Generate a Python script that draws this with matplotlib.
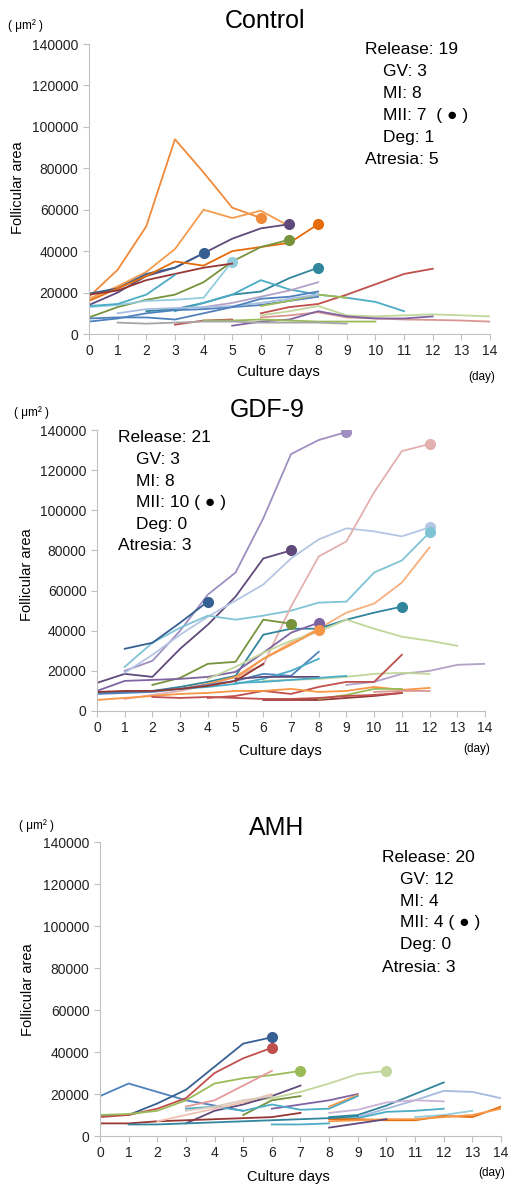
import numpy as np
import matplotlib
matplotlib.use("Agg")
import matplotlib.pyplot as plt

plt.rcParams["font.family"] = ["Liberation Sans", "DejaVu Sans"]

# ─── Paleta estilo Office ─────────────────────────────────────────────────────
BLUE, RED, GREEN, PURPLE, AQUA, ORANGE = "#4F81BD", "#C0504D", "#9BBB59", "#8064A2", "#4BACC6", "#F79646"
D_BLUE, D_RED, D_GREEN, D_PURPLE, D_AQUA, D_ORANGE = "#376092", "#953735", "#77933C", "#604A7B", "#31859C", "#E46C0A"
L_BLUE, L_RED, L_GREEN, L_PURPLE, L_AQUA, L_ORANGE = "#A7BDE0", "#D99694", "#C3D69B", "#B3A2C7", "#93CDDD", "#F6AE7C"

days = list(range(0, 15))
y_ticks = list(range(0, 140001, 20000))

# ─── Control ──────────────────────────────────────────────────────────────────
ctrl_start = [0, 0, 0, 0, 0, 0, 0, 0, 0, 2, 3, 6, 4, 0, 6, 6, 6, 5, 3, 4, 1, 1, 0]
ctrl_vals = [
    [18000, 31000, 52000, 94000, 78000, 61000, 56000],
    [17000, 23000, 30000, 41000, 60000, 56000, 59500, 52000],
    [14000, 20000, 28000, 32000, 39000, 46000, 51000, 53000],
    [19500, 22000, 29000, 32000, 39000],
    [16000, 22000, 28000, 35000, 33000, 40000, 42000, 44000, 53000],
    [8000, 13000, 16500, 19000, 25000, 35000, 42000, 45500],
    [13000, 14000, 16000, 16500, 17500, 35000],
    [19000, 21000, 26000, 29000, 32000, 34000],
    [13500, 14500, 19000, 28500],
    [11000, 12000, 15000, 19000, 20500, 27000, 32000],
    [11000, 15000, 19000, 26000, 21500, 19000, 17500, 15500, 11000],
    [10000, 13000, 14500, 19000, 24000, 29000, 31500],
    [13000, 15000, 18000, 21000, 25000],
    [6000, 7500, 10000, 11500, 12000, 13000, 14000, 16000, 18000],
    [13500, 16000, 19000, 17500],
    [9000, 11000, 13500, 9000, 8500, 9000, 9500, 9000, 8500],
    [8000, 9000, 10500, 8000, 7500, 7000, 6800, 6500, 6000],
    [4000, 6000, 7000, 11000, 8500, 7500, 7500, 8500],
    [4500, 6500, 7000],
    [6500, 6500, 7000, 6500, 6000, 6000, 6000],
    [5500, 5000, 5500, 6000, 6000, 5500, 5500, 5500, 5000],
    [10000, 12000, 12500, 13000, 13500, 15000, 17000, 19000],
    [7500, 8000, 8000, 7000, 10000, 13000, 17000, 18000, 20500],
]
ctrl_mii = [1, 0, 1, 1, 1, 1, 1, 0, 0, 1, 0, 0, 0, 0, 0, 0, 0, 0, 0, 0, 0, 0, 0]
ctrl_colors = ["#F08A3A", "#F59B4E", D_PURPLE, D_BLUE, D_ORANGE, D_GREEN, L_AQUA, D_RED, AQUA,
               D_AQUA, AQUA, RED, L_PURPLE, BLUE, GREEN, L_GREEN, L_RED, PURPLE, RED,
               GREEN, "#A6A6A6", L_BLUE, BLUE]
ctrl_info = ["Release: 19", "GV: 3", "MI: 8", "MII: 7  ( \u25cf )", "Deg: 1", "Atresia: 5"]

# ─── GDF-9 ────────────────────────────────────────────────────────────────────
gdf_start = [1, 0, 1, 1, 1, 1, 5, 0, 2, 0, 4, 3, 9, 6, 4, 0, 3, 5, 5, 0, 0, 6, 8, 10, 2]
gdf_vals = [
    [20000, 25000, 40000, 58000, 69000, 96000, 128000, 135000, 139000],
    [14000, 18500, 17000, 31000, 43000, 57000, 76000, 80000],
    [19000, 28000, 38000, 47000, 55000, 63000, 76000, 85500, 91000, 89500, 87000, 91500],
    [22000, 34000, 41500, 47500, 45500, 47500, 50000, 54000, 54500, 69000, 75000, 89000],
    [31000, 34000, 44000, 54500],
    [6000, 8000, 10000, 13000, 17000, 23000, 52000, 77000, 84500, 109000, 129500, 133000],
    [16000, 26000, 34000, 41000, 49000, 53500, 64000, 81500],
    [9000, 9500, 10000, 12000, 14500, 17500, 38000, 41000, 41000, 45500, 49000, 52000],
    [13000, 16500, 23500, 24500, 45500, 43500],
    [10000, 15000, 15500, 16000, 17000, 19500, 29000, 39000, 44000],
    [16000, 22000, 29000, 35000, 39500, 45500, 41000, 37000, 35000, 32500],
    [11000, 13500, 17000, 26000, 33000, 40500],
    [13000, 14500, 18500, 20000, 23000, 23500],
    [15000, 15500, 16000, 17000, 18500, 19000, 18500],
    [6500, 7500, 10000, 8500, 12000, 14500, 14500, 28000],
    [8500, 9000, 9500, 11000, 13000, 15000, 18500, 17500, 29500],
    [11000, 12000, 13500, 16000, 20000, 26000],
    [16000, 17000, 17000, 17000],
    [14000, 14500, 15500, 16500, 17500],
    [5500, 6500, 7500, 8500, 9000, 10000, 10000, 11000, 9500, 10000, 12000, 10500, 11500],
    [9500, 10000, 10000, 11000, 12500, 15000, 23500],
    [5500, 5500, 5500, 6500, 7500, 9000],
    [6000, 8000, 11000, 11000],
    [9500, 10000, 10000],
    [7000, 6500, 7000, 6500, 6000, 6000, 6500, 7500, 8000, 9000],
]
gdf_mii = [1, 1, 1, 1, 1, 1, 0, 1, 1, 1, 0, 1, 0, 0, 0, 0, 0, 0, 0, 0, 0, 0, 0, 0, 0]
gdf_colors = ["#9E8FC0", D_PURPLE, "#B4C6E4", "#7FC4D6", D_BLUE, "#E2B0AE", L_ORANGE, D_AQUA,
              D_GREEN, PURPLE, L_GREEN, ORANGE, L_PURPLE, L_GREEN, RED, BLUE, AQUA, D_PURPLE,
              AQUA, ORANGE, D_RED, D_RED, GREEN, L_RED, RED]
gdf_info = ["Release: 21", "GV: 3", "MI: 8", "MII: 10 ( \u25cf )", "Deg: 0", "Atresia: 3"]

# ─── AMH ──────────────────────────────────────────────────────────────────────
amh_start = [0, 0, 0, 0, 5, 3, 3, 5, 6, 8, 3, 8, 9, 8, 8, 11, 8, 8, 8, 0, 1, 6, 2, 3]
amh_vals = [
    [19000, 25000, 21000, 17000, 14500, 12000],
    [10000, 10000, 15500, 22000, 33000, 44000, 47000],
    [9000, 10000, 13000, 18000, 30000, 37000, 42000],
    [10000, 10500, 12000, 17000, 25000, 27500, 29000, 31000],
    [16000, 18000, 21000, 25000, 29500, 31000],
    [14000, 17000, 24000, 31000],
    [6000, 12000, 15000, 19000, 24000],
    [10000, 17000, 19000],
    [13000, 15000, 17000, 20000],
    [14000, 19500],
    [13000, 14000, 12000, 15000, 12500, 13000, 19000],
    [9000, 10000, 14500, 20000, 25500],
    [9000, 13000, 17000, 21500, 21000, 18000],
    [11000, 12500, 16000, 17000, 16500],
    [8500, 8500, 11500, 12000, 13000],
    [9000, 10000, 12000],
    [8000, 8000, 7500, 7500, 9500, 9000, 14000],
    [7000, 7500, 8000, 8000, 9000, 10000, 13000],
    [4000, 6000, 8000],
    [6000, 6000, 7000, 7500, 8000, 8500, 9000, 11000],
    [5500, 5500, 6000, 6500, 7000, 7500, 8000, 8500, 9500],
    [5500, 5500, 6000],
    [7000, 10000, 13000, 16000, 20000],
    [12000, 14000, 17000, 19000],
]
amh_mii = [0, 1, 1, 1, 1, 0, 0, 0, 0, 0, 0, 0, 0, 0, 0, 0, 0, 0, 0, 0, 0, 0, 0, 0]
amh_colors = [BLUE, D_BLUE, RED, GREEN, L_GREEN, "#E49A9A", D_PURPLE, D_GREEN, PURPLE, ORANGE,
              AQUA, D_AQUA, "#A6B9DF", "#C9B3D6", AQUA, L_AQUA, D_ORANGE, ORANGE, D_PURPLE,
              D_RED, D_AQUA, AQUA, "#F2C0B0", "#D8CBBE"]
amh_info = ["Release: 20", "GV: 12", "MI: 4", "MII: 4 ( \u25cf )", "Deg: 0", "Atresia: 3"]

W, H = 510, 1185


def fx(x):
    return x / W


def fy(y):
    return 1 - y / H


def painel(fig, rect_px, starts, vals, mii, cores, titulo, info, layout):
    x0, y0, x1, y1 = rect_px
    ax = fig.add_axes([fx(x0), fy(y1), (x1 - x0) / W, (y1 - y0) / H])
    for s, v, m, c in zip(starts, vals, mii, cores):
        x = np.arange(s, s + len(v))
        ax.plot(x, v, color=c, lw=1.3, solid_joinstyle="round")
        if m:
            ax.plot(x[-1], v[-1], "o", color=c, ms=7, mec=c)
    ax.set_xlim(0, 14)
    ax.set_ylim(0, 140000)
    ax.set_xticks(days)
    ax.set_yticks(y_ticks)
    for lado in ("top", "right"):
        ax.spines[lado].set_visible(False)
    for lado in ("left", "bottom"):
        ax.spines[lado].set_color("#C0C0C0")
    ax.tick_params(colors="#C0C0C0", labelcolor="#222222", labelsize=10, length=4, direction="out")

    tx, ty = layout["title"]
    fig.text(fx(tx), fy(ty), titulo, ha="center", va="center", fontsize=18)
    ux, uy = layout["unit"]
    fig.text(fx(ux), fy(uy), "( \u03bcm\u00b2 )", ha="left", va="center", fontsize=8.5)
    lx, ly = layout["xlabel"]
    fig.text(fx(lx), fy(ly), "Culture days", ha="center", va="center", fontsize=10.5)
    dx, dy = layout["day"]
    fig.text(fx(dx), fy(dy), "(day)", ha="left", va="center", fontsize=8.5)
    yx, yy = layout["ylabel"]
    fig.text(fx(yx), fy(yy), "Follicular area", ha="center", va="center", rotation=90, fontsize=10.5)
    ix, iy, ind, passo = layout["info"]
    for i, linha in enumerate(info):
        dx_ = 0 if i in (0, 5) else ind
        fig.text(fx(ix + dx_), fy(iy + i * passo), linha, ha="left", va="center", fontsize=12.5)
    return ax


fig = plt.figure(figsize=(W / 100, H / 100), dpi=100)

painel(fig, (89, 44, 490, 334), ctrl_start, ctrl_vals, ctrl_mii, ctrl_colors, "Control", ctrl_info,
       {"title": (265, 21), "unit": (8, 26), "xlabel": (278, 372), "day": (468, 377),
        "ylabel": (18, 188), "info": (365, 50, 18, 21.8)})

painel(fig, (97, 430, 485, 711), gdf_start, gdf_vals, gdf_mii, gdf_colors, "GDF-9", gdf_info,
       {"title": (267, 410), "unit": (14, 413), "xlabel": (280, 751), "day": (463, 749),
        "ylabel": (27, 575), "info": (118, 438, 18, 21.6)})

painel(fig, (100, 842, 501, 1136), amh_start, amh_vals, amh_mii, amh_colors, "AMH", amh_info,
       {"title": (277, 828), "unit": (19, 826), "xlabel": (288, 1177), "day": (478, 1173),
        "ylabel": (28, 990), "info": (382, 857, 18, 22)})

fig.savefig("out.png", dpi=100)
